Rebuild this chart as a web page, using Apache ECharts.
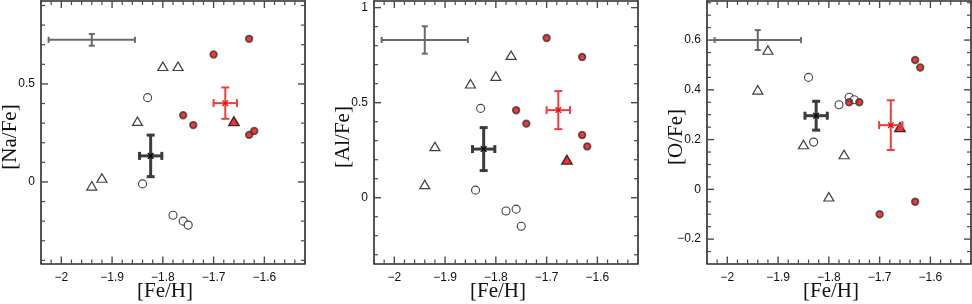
<!DOCTYPE html>
<html><head><meta charset="utf-8">
<script src="https://cdn.jsdelivr.net/npm/echarts@6/dist/echarts.min.js"></script>
<style>html,body{margin:0;padding:0;background:#fff}#c{width:972px;height:304px}</style>
</head><body><div id="c"></div>
<script>
// ---------- data ----------
const xTitle = '[Fe/H]';
const yTitles = ['[Na/Fe]', '[Al/Fe]', '[O/Fe]'];
const xRange = [-2.04, -1.52];
const yRanges = [[-0.416, 0.923], [-0.346, 1.035], [-0.298, 0.757]];
const xTickLabels = [-2, -1.9, -1.8, -1.7, -1.6];
const yTickLabelsNa = [0, 0.5];
const yTickLabelsAl = [0, 0.5, 1];
const yTickLabelsO = [-0.2, 0, 0.2, 0.4, 0.6];
const xMinorStep = 0.02;
const yMinorSteps = [0.1, 0.1, 0.05];

// open triangles
const triNa = [[-1.94,-0.02],[-1.92,0.02],[-1.85,0.31],[-1.80,0.59],[-1.77,0.59]];
const triAl = [[-1.94,0.07],[-1.92,0.27],[-1.85,0.60],[-1.80,0.64],[-1.77,0.75]];
const triO  = [[-1.94,0.40],[-1.92,0.56],[-1.85,0.18],[-1.80,-0.03],[-1.77,0.14]];
// open circles
const circNa = [[-1.84,-0.01],[-1.83,0.43],[-1.78,-0.17],[-1.76,-0.20],[-1.75,-0.22]];
const circAl = [[-1.84,0.04],[-1.83,0.47],[-1.78,-0.07],[-1.76,-0.06],[-1.75,-0.15]];
const circO  = [[-1.84,0.45],[-1.83,0.19],[-1.78,0.34],[-1.76,0.37],[-1.75,0.36]];
// red filled circles
const redNa = [[-1.76,0.34],[-1.74,0.29],[-1.70,0.65],[-1.63,0.73],[-1.63,0.24],[-1.62,0.26]];
const redAl = [[-1.76,0.46],[-1.74,0.39],[-1.70,0.84],[-1.63,0.74],[-1.63,0.33],[-1.62,0.27]];
const redO  = [[-1.76,0.35],[-1.74,0.35],[-1.70,-0.10],[-1.63,0.52],[-1.63,-0.05],[-1.62,0.49]];
// red filled triangle
const redTriNa = [[-1.66,0.31]];
const redTriAl = [[-1.66,0.20]];
const redTriO  = [[-1.66,0.25]];
// error crosses: [x, y, xErr, yErr]
const typErrNa = [[-1.94,0.725,0.085,0.03]];
const typErrAl = [[-1.94,0.83,0.085,0.072]];
const typErrO  = [[-1.94,0.60,0.085,0.04]];
const meanBlackNa = [[-1.824,0.133,0.022,0.106]];
const meanBlackAl = [[-1.824,0.256,0.022,0.113]];
const meanBlackO  = [[-1.825,0.296,0.022,0.058]];
const meanRedNa = [[-1.677,0.402,0.023,0.08]];
const meanRedAl = [[-1.677,0.461,0.023,0.10]];
const meanRedO  = [[-1.678,0.258,0.023,0.10]];

// ---------- build ----------
const panels = [
  {tri: triNa, circ: circNa, red: redNa, redTri: redTriNa, typ: typErrNa, blk: meanBlackNa, rd: meanRedNa, yl: yTickLabelsNa},
  {tri: triAl, circ: circAl, red: redAl, redTri: redTriAl, typ: typErrAl, blk: meanBlackAl, rd: meanRedAl, yl: yTickLabelsAl},
  {tri: triO,  circ: circO,  red: redO,  redTri: redTriO,  typ: typErrO,  blk: meanBlackO,  rd: meanRedO,  yl: yTickLabelsO}
];
const gridLefts = [41, 374, 707];
const GW = 264, GT = 1, GH = 262.5;

function stepTicks(lo, hi, step) {
  const out = [];
  const s = Math.ceil(lo / step - 1e-9), e = Math.floor(hi / step + 1e-9);
  for (let k = s; k <= e; k++) out.push(Math.round(k * step * 1000) / 1000);
  return out;
}
function isIn(arr, v) { return arr.some(m => Math.abs(m - v) < 1e-6); }
function fmt(v) {
  const a = Math.round(Math.abs(v) * 100) / 100;
  return (v < -1e-9 ? '\u2212' : '') + String(a);
}
const FRAME = '#2a2a2a', TICK = '#4a4a4a';
const labelFont = {fontFamily: 'Liberation Sans, Arial, sans-serif', fontSize: 12, color: '#111'};

const grids = [], xAxes = [], yAxes = [], series = [], graphics = [];

function errRender(color, width, cap, mark) {
  return function (params, api) {
    const x = api.value(0), y = api.value(1), ex = api.value(2), ey = api.value(3);
    const c = api.coord([x, y]);
    const l = api.coord([x - ex, y]), r = api.coord([x + ex, y]);
    const t = api.coord([x, y + ey]), b = api.coord([x, y - ey]);
    const ln = (x1, y1, x2, y2) => ({type: 'line', shape: {x1, y1, x2, y2}, style: {stroke: color, lineWidth: width, fill: null}});
    const ch = [
      ln(l[0], l[1], r[0], r[1]),
      ln(t[0], t[1], b[0], b[1]),
      ln(l[0], l[1] - cap, l[0], l[1] + cap),
      ln(r[0], r[1] - cap, r[0], r[1] + cap),
      ln(t[0] - cap, t[1], t[0] + cap, t[1]),
      ln(b[0] - cap, b[1], b[0] + cap, b[1])
    ];
    if (mark) {
      const m = 2.8;
      ch.push({type: 'line', shape: {x1: c[0]-m, y1: c[1]-m, x2: c[0]+m, y2: c[1]+m}, style: {stroke: mark, lineWidth: 1.3}});
      ch.push({type: 'line', shape: {x1: c[0]-m, y1: c[1]+m, x2: c[0]+m, y2: c[1]-m}, style: {stroke: mark, lineWidth: 1.3}});
    }
    return {type: 'group', children: ch};
  };
}

panels.forEach((p, i) => {
  grids.push({left: gridLefts[i], top: GT, width: GW, height: GH, containLabel: false, show: false});
  const frameLine = {show: true, onZero: false, lineStyle: {color: FRAME, width: 1.6}};
  xAxes.push({type: 'value', gridIndex: i, position: 'bottom', min: xRange[0], max: xRange[1],
    splitLine: {show: false}, axisLine: frameLine, axisTick: {show: false},
    axisLabel: Object.assign({show: true, customValues: xTickLabels, formatter: fmt, margin: 8}, labelFont)});
  xAxes.push({type: 'value', gridIndex: i, position: 'top', min: xRange[0], max: xRange[1],
    splitLine: {show: false}, axisLine: frameLine, axisTick: {show: false}, axisLabel: {show: false}});
  yAxes.push({type: 'value', gridIndex: i, position: 'left', min: yRanges[i][0], max: yRanges[i][1],
    splitLine: {show: false}, axisLine: frameLine, axisTick: {show: false},
    axisLabel: Object.assign({show: true, customValues: p.yl, formatter: fmt, margin: 6}, labelFont)});
  yAxes.push({type: 'value', gridIndex: i, position: 'right', min: yRanges[i][0], max: yRanges[i][1],
    splitLine: {show: false}, axisLine: frameLine, axisTick: {show: false}, axisLabel: {show: false}});
  const ax = {xAxisIndex: 2 * i, yAxisIndex: 2 * i};

  series.push(Object.assign({type: 'custom', data: p.typ, renderItem: errRender('#6a6a6a', 2, 3, null), z: 3}, ax));
  series.push(Object.assign({type: 'scatter', data: p.tri, symbol: 'triangle', symbolSize: [10, 8.5],
    itemStyle: {color: '#fff', borderColor: '#111', borderWidth: 1.2}, z: 4}, ax));
  series.push(Object.assign({type: 'scatter', data: p.circ, symbol: 'circle', symbolSize: 8,
    itemStyle: {color: '#fff', borderColor: '#111', borderWidth: 1.1}, z: 4}, ax));
  series.push(Object.assign({type: 'scatter', data: p.red, symbol: 'circle', symbolSize: 6.6,
    itemStyle: {color: '#ff0000', borderColor: '#3a3a3a', borderWidth: 1.8}, z: 5}, ax));
  series.push(Object.assign({type: 'scatter', data: p.redTri, symbol: 'triangle', symbolSize: [10.5, 9],
    itemStyle: {color: '#ee0000', borderColor: '#111', borderWidth: 1.4}, z: 5}, ax));
  series.push(Object.assign({type: 'custom', data: p.blk, renderItem: errRender('#3c3c3c', 3, 4, '#000'), z: 6}, ax));
  series.push(Object.assign({type: 'custom', data: p.rd, renderItem: errRender('#f23c3c', 2, 4, '#e01010'), z: 6}, ax));

  const titleFont = '21px "Liberation Serif", "Times New Roman", serif';
  graphics.push({type: 'text', x: gridLefts[i] + GW / 2 - 8, y: 291, z: 10,
    style: {text: xTitle, font: titleFont, fill: '#111', textAlign: 'center', textVerticalAlign: 'middle'}});
  graphics.push({type: 'text', x: gridLefts[i] - 31, y: 137, rotation: Math.PI / 2, z: 10,
    style: {text: yTitles[i], font: titleFont, fill: '#111', textAlign: 'center', textVerticalAlign: 'middle'}});
});

const chart = echarts.init(document.getElementById('c'), null, {renderer: 'canvas'});
chart.setOption({
  animation: false,
  backgroundColor: '#fff',
  grid: grids,
  xAxis: xAxes,
  yAxis: yAxes,
  series: series,
  graphic: graphics
});

// frame ticks (inside, on all four sides), positioned through the chart's own axis scales
try {
  const tickG = [];
  const addLine = (x1, y1, x2, y2, w) => tickG.push({type: 'line', z: 50, silent: true,
    shape: {x1, y1, x2, y2}, style: {stroke: TICK, lineWidth: w}});
  panels.forEach((p, i) => {
    const f = {xAxisIndex: 2 * i, yAxisIndex: 2 * i};
    const yr = yRanges[i];
    stepTicks(xRange[0], xRange[1], xMinorStep).forEach(v => {
      const mj = isIn(xTickLabels, v), L = mj ? 7 : 4, w = mj ? 1.4 : 1.2;
      const b = chart.convertToPixel(f, [v, yr[0]]), t = chart.convertToPixel(f, [v, yr[1]]);
      addLine(b[0], b[1], b[0], b[1] - L, w);
      addLine(t[0], t[1], t[0], t[1] + L, w);
    });
    stepTicks(yr[0], yr[1], yMinorSteps[i]).forEach(v => {
      const mj = isIn(p.yl, v), L = mj ? 7 : 4, w = mj ? 1.4 : 1.2;
      const l = chart.convertToPixel(f, [xRange[0], v]), r = chart.convertToPixel(f, [xRange[1], v]);
      addLine(l[0], l[1], l[0] + L, l[1], w);
      addLine(r[0], r[1], r[0] - L, r[1], w);
    });
  });
  chart.setOption({graphic: graphics.concat(tickG)});
} catch (e) { /* keep chart without ticks */ }
</script></body></html>
